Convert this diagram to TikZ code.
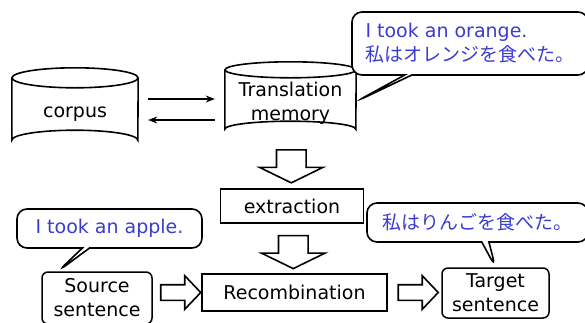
\documentclass[tikz,border=0pt]{standalone}
\usepackage{fontspec}
\setmainfont{DejaVu Sans}
\newfontfamily\jpfont{Noto Sans CJK JP}
\usetikzlibrary{arrows.meta, calc, shapes.callouts, shapes.arrows}
\definecolor{talkblue}{RGB}{60,60,210}

\begin{document}
\begin{tikzpicture}[
    x=1pt, y=-1pt,
    font=\fontsize{19}{24}\selectfont,
    db/.style={rectangle, align=center},
    dbline/.style={line width=1.6pt},
    box/.style={draw, rectangle, line width=1.5pt, align=center},
    sent/.style={draw, rectangle, rounded corners=6pt, line width=1.5pt, align=center},
    talk/.style={draw, rectangle callout, rounded corners=10pt, line width=1.6pt, align=left, text=talkblue, fill=white},
    arrow/.style={-{Stealth[length=9pt,width=7pt]}, line width=1.1pt},
    fatdown/.style={draw, single arrow, line width=1.6pt, inner sep=0pt, text height=14pt, text depth=14pt,
        single arrow head extend=17pt, single arrow tip angle=128, minimum height=33pt, rotate=-90},
    fatright/.style={draw, single arrow, line width=1.6pt, inner sep=0pt, text height=7pt, text depth=7pt,
        single arrow head extend=9pt, single arrow tip angle=93, minimum height=40pt}
]
\useasboundingbox (0,0) rectangle (585,322);

% databases (node = body below the top ellipse)
\node[db, minimum width=126pt, minimum height=72pt] (corpus) at (75,114) {corpus};
\node[db, minimum width=131pt, minimum height=67pt] (tm) at (290.5,103.5) {Translation\\memory};
\draw[dbline] (corpus.north west) -- ([yshift=10pt]corpus.south west)
    arc[start angle=180, end angle=0, x radius=63pt, y radius=10pt] -- (corpus.north east);
\draw[dbline] (corpus.north) ellipse[x radius=63pt, y radius=10pt];
\draw[dbline] (tm.north west) -- ([yshift=8pt]tm.south west)
    arc[start angle=180, end angle=0, x radius=65.5pt, y radius=8pt] -- (tm.north east);
\draw[dbline] (tm.north) ellipse[x radius=65.5pt, y radius=8pt];

% steps
\node[box, minimum width=143pt, minimum height=34pt] (extract) at (292,206) {extraction};
\node[box, minimum width=185pt, minimum height=37pt] (recomb) at (294.5,292.5) {Recombination};
\node[sent, minimum width=110pt, minimum height=52pt] (source) at (97,298) {Source\\sentence};
\node[sent, minimum width=107pt, minimum height=50pt] (target) at (495.5,293) {Target\\sentence};

% thin arrows
\draw[arrow, shorten <=10pt, shorten >=10pt] ([yshift=15pt]corpus.east) -- ([yshift=15pt]corpus.east -| tm.west);
\draw[arrow, shorten <=10pt, shorten >=10pt] ([yshift=-6pt]corpus.east -| tm.west) -- ([yshift=-6pt]corpus.east);

% block arrows
\node[fatdown] (down1) at ($(tm.south)!0.5!(extract.north)$) {};
\node[fatdown] (down2) at ($(extract.south)!0.5!(recomb.north)$) {};
\node[fatright] (right1) at ($(source.east |- recomb.west)!0.5!(recomb.west)$) {};
\node[fatright] (right2) at ($(recomb.east)!0.5!(target.west |- recomb.east)$) {};

% speech bubbles
\node[talk, minimum width=236pt, minimum height=63pt, callout absolute pointer={([yshift=2pt]tm.east)}] (say1) at (470,43.5)
    {I took an orange.\\{\jpfont 私はオレンジを食べた。}};
\node[talk, minimum width=185pt, minimum height=39pt, callout absolute pointer={([xshift=-39pt]source.north)}] (say2) at (109.5,228.5)
    {I took an apple.};
\node[talk, minimum width=221pt, minimum height=39pt, callout absolute pointer={(target.north)}] (say3) at (477.5,222.5)
    {\jpfont 私はりんごを食べた。};

\end{tikzpicture}
\end{document}
